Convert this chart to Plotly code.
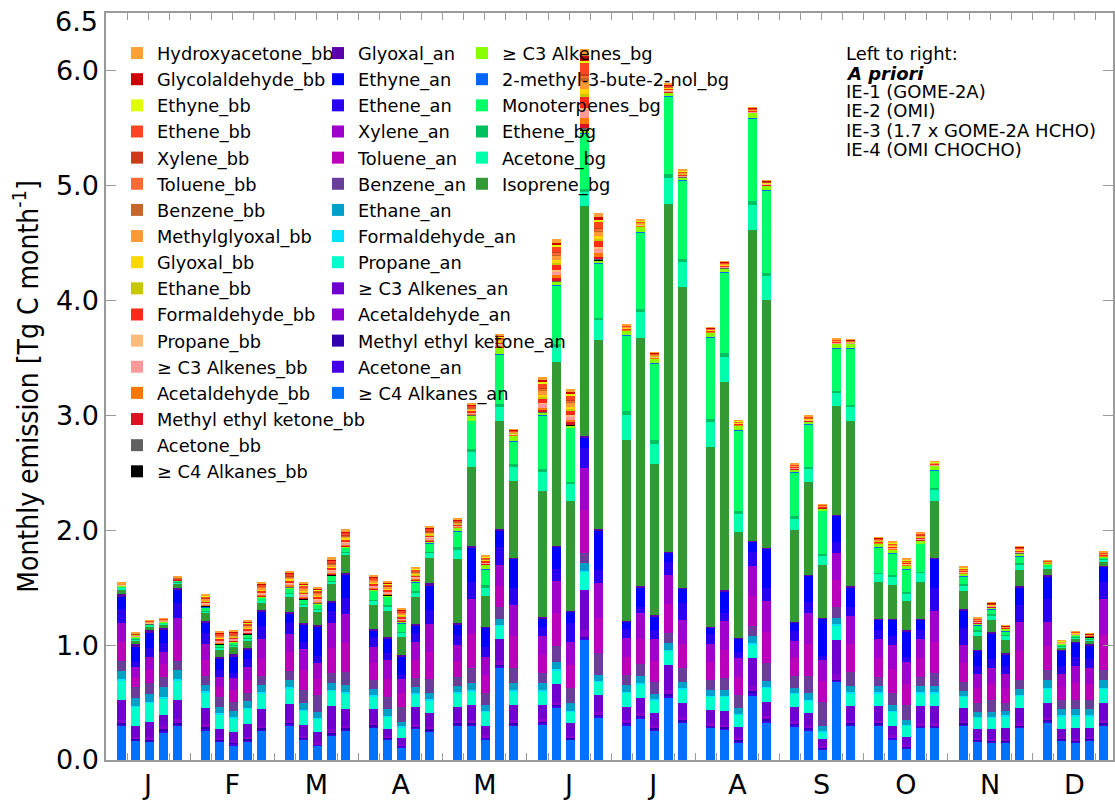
import plotly.graph_objects as go

months = ["J", "F", "M", "A", "M", "J", "J", "A", "S", "O", "N", "D"]
inversions = ["A priori", "IE-1 (GOME-2A)", "IE-2 (OMI)", "IE-3 (1.7 x GOME-2A HCHO)", "IE-4 (OMI CHOCHO)"]

# ---- anthropogenic (an), 5 bars per month: A priori, IE-1, IE-2, IE-3, IE-4 ----
alk4_an = [0.298, 0.168, 0.159, 0.238, 0.296,  0.261, 0.159, 0.130, 0.162, 0.255,
           0.298, 0.174, 0.122, 0.209, 0.255,  0.281, 0.174, 0.110, 0.272, 0.246,
           0.300, 0.300, 0.180, 0.800, 0.300,  0.310, 0.458, 0.174, 1.049, 0.371,
           0.304, 0.362, 0.255, 0.545, 0.325,  0.280, 0.265, 0.150, 0.560, 0.320,
           0.290, 0.255, 0.090, 0.680, 0.300,  0.300, 0.180, 0.100, 0.280, 0.280,
           0.300, 0.160, 0.150, 0.150, 0.280,  0.330, 0.170, 0.150, 0.170, 0.300]
acetone_an = [0.013, 0.012, 0.009, 0.022, 0.017,  0.014, 0.013, 0.013, 0.011, 0.012,
              0.016, 0.014, 0.010, 0.014, 0.012,  0.014, 0.014, 0.012, 0.011, 0.013,
              0.012, 0.012, 0.012, 0.018, 0.012,  0.014, 0.012, 0.008, 0.014, 0.012,
              0.013, 0.013, 0.012, 0.017, 0.014,  0.011, 0.013, 0.012, 0.025, 0.022,
              0.016, 0.015, 0.012, 0.012, 0.012,  0.012, 0.012, 0.012, 0.012, 0.012,
              0.012, 0.012, 0.012, 0.012, 0.012,  0.012, 0.012, 0.012, 0.012, 0.012]
mek_an = [0.009, 0.008, 0.006, 0.015, 0.012,  0.009, 0.008, 0.008, 0.007, 0.008,
          0.011, 0.009, 0.007, 0.009, 0.008,  0.009, 0.009, 0.008, 0.007, 0.008,
          0.008, 0.008, 0.008, 0.012, 0.008,  0.009, 0.008, 0.006, 0.009, 0.008,
          0.008, 0.008, 0.008, 0.012, 0.009,  0.007, 0.009, 0.008, 0.016, 0.014,
          0.011, 0.010, 0.008, 0.008, 0.008,  0.008, 0.008, 0.008, 0.008, 0.008,
          0.008, 0.008, 0.008, 0.008, 0.008,  0.008, 0.008, 0.008, 0.008, 0.008]
acetaldehyde_an = [0.030, 0.016, 0.024, 0.017, 0.030,  0.025, 0.013, 0.014, 0.020, 0.025,
                   0.024, 0.016, 0.015, 0.035, 0.025,  0.020, 0.011, 0.009, 0.025, 0.021,
                   0.021, 0.024, 0.015, 0.033, 0.024,  0.022, 0.027, 0.020, 0.061, 0.026,
                   0.021, 0.024, 0.020, 0.038, 0.022,  0.021, 0.021, 0.018, 0.042, 0.023,
                   0.022, 0.020, 0.011, 0.051, 0.022,  0.022, 0.015, 0.012, 0.025, 0.025,
                   0.020, 0.014, 0.015, 0.016, 0.022,  0.022, 0.012, 0.016, 0.014, 0.027]
c3alkenes_an = [0.172, 0.092, 0.135, 0.099, 0.167,  0.140, 0.074, 0.076, 0.113, 0.140,
                0.138, 0.088, 0.086, 0.202, 0.140,  0.116, 0.064, 0.049, 0.143, 0.118,
                0.119, 0.136, 0.085, 0.187, 0.136,  0.123, 0.156, 0.111, 0.345, 0.148,
                0.118, 0.135, 0.111, 0.214, 0.123,  0.119, 0.122, 0.099, 0.241, 0.128,
                0.122, 0.112, 0.064, 0.289, 0.128,  0.128, 0.085, 0.068, 0.145, 0.145,
                0.110, 0.076, 0.085, 0.094, 0.128,  0.128, 0.068, 0.094, 0.076, 0.153]
propane_an = [0.174, 0.168, 0.165, 0.145, 0.174,  0.139, 0.133, 0.121, 0.133, 0.140,
              0.136, 0.128, 0.119, 0.134, 0.140,  0.116, 0.105, 0.096, 0.116, 0.116,
              0.120, 0.120, 0.120, 0.120, 0.120,  0.122, 0.122, 0.101, 0.160, 0.116,
              0.121, 0.116, 0.116, 0.125, 0.121,  0.114, 0.122, 0.106, 0.122, 0.121,
              0.114, 0.102, 0.057, 0.130, 0.110,  0.110, 0.120, 0.100, 0.110, 0.110,
              0.100, 0.100, 0.100, 0.100, 0.110,  0.120, 0.110, 0.100, 0.100, 0.120]
formaldehyde_an = [0.010, 0.010, 0.010, 0.012, 0.011,  0.010, 0.010, 0.010, 0.010, 0.010,
                   0.011, 0.010, 0.010, 0.010, 0.011,  0.009, 0.010, 0.008, 0.009, 0.009,
                   0.009, 0.010, 0.009, 0.009, 0.010,  0.010, 0.010, 0.010, 0.010, 0.009,
                   0.010, 0.010, 0.009, 0.010, 0.010,  0.009, 0.009, 0.009, 0.011, 0.009,
                   0.009, 0.010, 0.008, 0.010, 0.009,  0.009, 0.009, 0.008, 0.009, 0.009,
                   0.008, 0.008, 0.008, 0.008, 0.009,  0.010, 0.009, 0.009, 0.009, 0.010]
ethane_an = [0.068, 0.062, 0.066, 0.090, 0.076,  0.054, 0.054, 0.057, 0.054, 0.059,
             0.062, 0.060, 0.051, 0.059, 0.061,  0.049, 0.054, 0.041, 0.049, 0.049,
             0.051, 0.060, 0.051, 0.051, 0.060,  0.057, 0.062, 0.063, 0.062, 0.049,
             0.057, 0.060, 0.043, 0.059, 0.057,  0.051, 0.051, 0.048, 0.064, 0.051,
             0.044, 0.059, 0.048, 0.060, 0.051,  0.051, 0.051, 0.042, 0.051, 0.051,
             0.042, 0.042, 0.042, 0.042, 0.051,  0.070, 0.051, 0.051, 0.051, 0.070]
benzene_an = [0.087, 0.102, 0.093, 0.087, 0.081,  0.078, 0.081, 0.078, 0.075, 0.081,
              0.081, 0.110, 0.145, 0.087, 0.116,  0.082, 0.104, 0.125, 0.078, 0.121,
              0.080, 0.130, 0.100, 0.100, 0.130,  0.087, 0.136, 0.130, 0.093, 0.189,
              0.087, 0.104, 0.107, 0.087, 0.116,  0.084, 0.103, 0.113, 0.087, 0.159,
              0.105, 0.150, 0.209, 0.090, 0.130,  0.080, 0.100, 0.130, 0.080, 0.120,
              0.080, 0.080, 0.100, 0.070, 0.080,  0.080, 0.080, 0.080, 0.080, 0.080]
toluene_an = [0.167, 0.087, 0.113, 0.109, 0.184,  0.140, 0.090, 0.102, 0.114, 0.160,
              0.160, 0.177, 0.141, 0.215, 0.251,  0.145, 0.163, 0.122, 0.160, 0.241,
              0.140, 0.300, 0.160, 0.185, 0.275,  0.162, 0.284, 0.203, 0.371, 0.304,
              0.160, 0.222, 0.184, 0.251, 0.210,  0.155, 0.246, 0.161, 0.259, 0.269,
              0.152, 0.275, 0.180, 0.235, 0.240,  0.165, 0.210, 0.185, 0.165, 0.270,
              0.160, 0.125, 0.140, 0.125, 0.250,  0.210, 0.115, 0.150, 0.140, 0.310]
xylene_an = [0.166, 0.087, 0.113, 0.108, 0.184,  0.139, 0.090, 0.101, 0.113, 0.159,
             0.159, 0.176, 0.140, 0.214, 0.251,  0.145, 0.162, 0.121, 0.159, 0.241,
             0.140, 0.300, 0.160, 0.185, 0.275,  0.162, 0.284, 0.203, 0.371, 0.304,
             0.159, 0.221, 0.184, 0.251, 0.210,  0.155, 0.245, 0.160, 0.259, 0.268,
             0.151, 0.274, 0.179, 0.235, 0.240,  0.165, 0.210, 0.185, 0.165, 0.270,
             0.160, 0.125, 0.140, 0.125, 0.250,  0.210, 0.115, 0.150, 0.140, 0.310]
ethene_an = [0.116, 0.052, 0.078, 0.072, 0.130,  0.098, 0.058, 0.049, 0.063, 0.116,
             0.092, 0.067, 0.058, 0.111, 0.136,  0.081, 0.058, 0.038, 0.078, 0.121,
             0.090, 0.150, 0.080, 0.150, 0.150,  0.081, 0.099, 0.159, 0.174, 0.116,
             0.078, 0.058, 0.081, 0.116, 0.145,  0.087, 0.076, 0.058, 0.125, 0.113,
             0.083, 0.094, 0.038, 0.098, 0.080,  0.080, 0.080, 0.050, 0.080, 0.200,
             0.150, 0.070, 0.080, 0.070, 0.150,  0.200, 0.070, 0.080, 0.080, 0.150]
ethyne_an = [0.110, 0.122, 0.136, 0.116, 0.116,  0.087, 0.092, 0.140, 0.087, 0.125,
             0.087, 0.154, 0.255, 0.075, 0.203,  0.058, 0.130, 0.165, 0.067, 0.218,
             0.090, 0.300, 0.170, 0.150, 0.250,  0.064, 0.197, 0.102, 0.087, 0.348,
             0.067, 0.168, 0.122, 0.078, 0.131,  0.064, 0.188, 0.113, 0.087, 0.340,
             0.076, 0.227, 0.328, 0.226, 0.170,  0.090, 0.140, 0.220, 0.090, 0.250,
             0.150, 0.130, 0.220, 0.100, 0.150,  0.200, 0.130, 0.120, 0.120, 0.130]
glyoxal_an = [0.023, 0.023, 0.023, 0.020, 0.022,  0.018, 0.018, 0.023, 0.009, 0.014,
              0.015, 0.011, 0.015, 0.012, 0.020,  0.011, 0.014, 0.009, 0.009, 0.014,
              0.010, 0.010, 0.010, 0.010, 0.010,  0.018, 0.010, 0.008, 0.009, 0.010,
              0.007, 0.009, 0.008, 0.007, 0.007,  0.003, 0.005, 0.005, 0.007, 0.008,
              0.005, 0.007, 0.008, 0.006, 0.010,  0.010, 0.010, 0.010, 0.010, 0.010,
              0.010, 0.010, 0.010, 0.010, 0.010,  0.010, 0.010, 0.010, 0.010, 0.010]

# ---- biogenic (bg) ----
isoprene_bg = [0.044, 0.035, 0.030, 0.028, 0.040,  0.063, 0.069, 0.064, 0.072, 0.064,
               0.130, 0.134, 0.116, 0.144, 0.154,  0.212, 0.227, 0.159, 0.237, 0.226,
               0.560, 0.690, 0.270, 0.940, 0.670,  1.101, 1.598, 0.957, 2.005, 1.642,
               1.573, 2.160, 1.314, 3.025, 2.616,  1.566, 1.818, 0.921, 2.704, 2.159,
               0.800, 0.806, 0.457, 0.948, 1.440,  0.320, 0.290, 0.250, 0.320, 0.490,
               0.160, 0.120, 0.110, 0.110, 0.140,  0.050, 0.020, 0.030, 0.030, 0.040]
acetone_bg = [0.010, 0.008, 0.006, 0.008, 0.008,  0.020, 0.014, 0.013, 0.016, 0.016,
              0.025, 0.022, 0.022, 0.024, 0.022,  0.040, 0.040, 0.039, 0.041, 0.040,
              0.080, 0.130, 0.070, 0.120, 0.120,  0.165, 0.131, 0.145, 0.120, 0.174,
              0.217, 0.230, 0.180, 0.225, 0.214,  0.214, 0.217, 0.159, 0.221, 0.206,
              0.100, 0.114, 0.083, 0.112, 0.120,  0.070, 0.080, 0.070, 0.080, 0.100,
              0.050, 0.040, 0.040, 0.040, 0.050,  0.020, 0.010, 0.010, 0.010, 0.015]
ethene_bg = [0.003, 0.002, 0.002, 0.002, 0.002,  0.003, 0.003, 0.002, 0.003, 0.003,
             0.004, 0.004, 0.004, 0.004, 0.004,  0.007, 0.007, 0.007, 0.007, 0.007,
             0.020, 0.030, 0.020, 0.030, 0.030,  0.021, 0.026, 0.020, 0.030, 0.024,
             0.038, 0.028, 0.029, 0.036, 0.032,  0.025, 0.029, 0.023, 0.032, 0.032,
             0.024, 0.018, 0.012, 0.020, 0.020,  0.010, 0.010, 0.010, 0.010, 0.020,
             0.010, 0.010, 0.010, 0.010, 0.010,  0.005, 0.005, 0.005, 0.005, 0.005]
monoterpenes_bg = [0.012, 0.014, 0.012, 0.011, 0.011,  0.032, 0.024, 0.023, 0.027, 0.026,
                   0.044, 0.039, 0.039, 0.044, 0.040,  0.077, 0.077, 0.074, 0.079, 0.078,
                   0.140, 0.240, 0.140, 0.430, 0.190,  0.472, 0.510, 0.473, 0.480, 0.470,
                   0.658, 0.666, 0.667, 0.674, 0.678,  0.710, 0.704, 0.707, 0.721, 0.711,
                   0.376, 0.372, 0.378, 0.370, 0.490,  0.220, 0.190, 0.200, 0.240, 0.150,
                   0.070, 0.040, 0.040, 0.030, 0.060,  0.015, 0.010, 0.010, 0.010, 0.015]
mbo_bg = [0.001, 0.001, 0.001, 0.001, 0.001,  0.002, 0.001, 0.001, 0.001, 0.001,
          0.002, 0.002, 0.002, 0.002, 0.002,  0.002, 0.002, 0.002, 0.002, 0.002,
          0.003, 0.004, 0.003, 0.005, 0.004,  0.003, 0.003, 0.003, 0.003, 0.003,
          0.004, 0.004, 0.004, 0.004, 0.004,  0.004, 0.004, 0.004, 0.004, 0.004,
          0.003, 0.003, 0.003, 0.003, 0.003,  0.003, 0.003, 0.003, 0.003, 0.003,
          0.002, 0.002, 0.002, 0.002, 0.002,  0.001, 0.001, 0.001, 0.001, 0.001]
c3alkenes_bg = [0.003, 0.003, 0.002, 0.003, 0.003,  0.007, 0.005, 0.004, 0.006, 0.006,
                0.006, 0.005, 0.005, 0.005, 0.004,  0.010, 0.010, 0.009, 0.010, 0.010,
                0.027, 0.046, 0.037, 0.055, 0.046,  0.017, 0.027, 0.017, 0.025, 0.025,
                0.033, 0.040, 0.036, 0.036, 0.028,  0.041, 0.033, 0.036, 0.043, 0.043,
                0.027, 0.023, 0.017, 0.037, 0.037,  0.027, 0.027, 0.027, 0.027, 0.037,
                0.018, 0.018, 0.018, 0.018, 0.028,  0.009, 0.004, 0.004, 0.004, 0.004]

# ---- biomass burning (bb) ----
alk4_bb = [0.0003, 0.0004, 0.0003, 0.0003, 0.0003,  0.0010, 0.0011, 0.0010, 0.0012, 0.0013,
           0.0015, 0.0015, 0.0014, 0.0015, 0.0015,  0.0013, 0.0012, 0.0012, 0.0012, 0.0014,
           0.0008, 0.0010, 0.0008, 0.0011, 0.0006,  0.0031, 0.0038, 0.0032, 0.0071, 0.0041,
           0.0006, 0.0006, 0.0006, 0.0007, 0.0006,  0.0005, 0.0006, 0.0005, 0.0005, 0.0004,
           0.0005, 0.0005, 0.0004, 0.0004, 0.0004,  0.0006, 0.0007, 0.0006, 0.0007, 0.0004,
           0.0006, 0.0005, 0.0004, 0.0003, 0.0006,  0.0003, 0.0003, 0.0003, 0.0003, 0.0004]
acetone_bb = [0.0005, 0.0007, 0.0007, 0.0006, 0.0006,  0.0021, 0.0021, 0.0019, 0.0023, 0.0026,
              0.0029, 0.0029, 0.0028, 0.0031, 0.0030,  0.0025, 0.0023, 0.0023, 0.0024, 0.0027,
              0.0016, 0.0020, 0.0016, 0.0022, 0.0012,  0.0063, 0.0075, 0.0064, 0.0142, 0.0082,
              0.0011, 0.0012, 0.0012, 0.0015, 0.0013,  0.0009, 0.0012, 0.0009, 0.0010, 0.0009,
              0.0010, 0.0010, 0.0007, 0.0009, 0.0008,  0.0012, 0.0014, 0.0012, 0.0014, 0.0008,
              0.0012, 0.0010, 0.0008, 0.0006, 0.0012,  0.0006, 0.0006, 0.0006, 0.0006, 0.0008]
mek_bb = [0.0013, 0.0018, 0.0017, 0.0015, 0.0015,  0.0052, 0.0054, 0.0048, 0.0058, 0.0066,
          0.0073, 0.0073, 0.0070, 0.0077, 0.0076,  0.0063, 0.0058, 0.0058, 0.0061, 0.0068,
          0.0040, 0.0050, 0.0040, 0.0055, 0.0030,  0.0157, 0.0188, 0.0160, 0.0356, 0.0206,
          0.0029, 0.0031, 0.0030, 0.0037, 0.0032,  0.0023, 0.0030, 0.0024, 0.0024, 0.0022,
          0.0024, 0.0024, 0.0019, 0.0022, 0.0020,  0.0030, 0.0035, 0.0030, 0.0035, 0.0020,
          0.0030, 0.0025, 0.0020, 0.0015, 0.0030,  0.0015, 0.0015, 0.0015, 0.0015, 0.0020]
acetaldehyde_bb = [0.0018, 0.0025, 0.0024, 0.0020, 0.0020,  0.0073, 0.0075, 0.0067, 0.0081, 0.0092,
                   0.0102, 0.0102, 0.0097, 0.0107, 0.0106,  0.0088, 0.0081, 0.0081, 0.0085, 0.0095,
                   0.0056, 0.0070, 0.0056, 0.0077, 0.0042,  0.0219, 0.0263, 0.0223, 0.0498, 0.0288,
                   0.0040, 0.0043, 0.0042, 0.0052, 0.0045,  0.0032, 0.0041, 0.0033, 0.0034, 0.0030,
                   0.0034, 0.0034, 0.0026, 0.0031, 0.0028,  0.0042, 0.0049, 0.0042, 0.0049, 0.0028,
                   0.0042, 0.0035, 0.0028, 0.0021, 0.0042,  0.0021, 0.0021, 0.0021, 0.0021, 0.0028]
c3alkenes_bb = [0.0026, 0.0035, 0.0034, 0.0029, 0.0029,  0.0104, 0.0107, 0.0096, 0.0116, 0.0131,
                0.0145, 0.0145, 0.0139, 0.0153, 0.0151,  0.0125, 0.0116, 0.0116, 0.0122, 0.0136,
                0.0080, 0.0100, 0.0080, 0.0110, 0.0060,  0.0313, 0.0376, 0.0319, 0.0712, 0.0412,
                0.0057, 0.0062, 0.0060, 0.0074, 0.0064,  0.0045, 0.0059, 0.0047, 0.0048, 0.0043,
                0.0048, 0.0048, 0.0037, 0.0044, 0.0040,  0.0060, 0.0070, 0.0060, 0.0070, 0.0040,
                0.0060, 0.0050, 0.0040, 0.0030, 0.0060,  0.0030, 0.0030, 0.0030, 0.0030, 0.0040]
propane_bb = [0.0008, 0.0011, 0.0010, 0.0009, 0.0009,  0.0031, 0.0032, 0.0029, 0.0035, 0.0039,
              0.0044, 0.0044, 0.0042, 0.0046, 0.0045,  0.0038, 0.0035, 0.0035, 0.0037, 0.0041,
              0.0024, 0.0030, 0.0024, 0.0033, 0.0018,  0.0094, 0.0113, 0.0096, 0.0214, 0.0124,
              0.0017, 0.0019, 0.0018, 0.0022, 0.0019,  0.0014, 0.0018, 0.0014, 0.0014, 0.0013,
              0.0014, 0.0014, 0.0011, 0.0013, 0.0012,  0.0018, 0.0021, 0.0018, 0.0021, 0.0012,
              0.0018, 0.0015, 0.0012, 0.0009, 0.0018,  0.0009, 0.0009, 0.0009, 0.0009, 0.0012]
formaldehyde_bb = [0.0034, 0.0046, 0.0044, 0.0038, 0.0038,  0.0135, 0.0139, 0.0125, 0.0151, 0.0170,
                   0.0189, 0.0189, 0.0181, 0.0199, 0.0196,  0.0163, 0.0151, 0.0151, 0.0159, 0.0177,
                   0.0104, 0.0130, 0.0104, 0.0143, 0.0078,  0.0407, 0.0489, 0.0415, 0.0926, 0.0536,
                   0.0074, 0.0081, 0.0078, 0.0096, 0.0083,  0.0059, 0.0077, 0.0061, 0.0062, 0.0056,
                   0.0062, 0.0062, 0.0048, 0.0057, 0.0052,  0.0078, 0.0091, 0.0078, 0.0091, 0.0052,
                   0.0078, 0.0065, 0.0052, 0.0039, 0.0078,  0.0039, 0.0039, 0.0039, 0.0039, 0.0052]
ethane_bb = [0.0008, 0.0011, 0.0010, 0.0009, 0.0009,  0.0031, 0.0032, 0.0029, 0.0035, 0.0039,
             0.0044, 0.0044, 0.0042, 0.0046, 0.0045,  0.0038, 0.0035, 0.0035, 0.0037, 0.0041,
             0.0024, 0.0030, 0.0024, 0.0033, 0.0018,  0.0094, 0.0113, 0.0096, 0.0214, 0.0124,
             0.0017, 0.0019, 0.0018, 0.0022, 0.0019,  0.0014, 0.0018, 0.0014, 0.0014, 0.0013,
             0.0014, 0.0014, 0.0011, 0.0013, 0.0012,  0.0018, 0.0021, 0.0018, 0.0021, 0.0012,
             0.0018, 0.0015, 0.0012, 0.0009, 0.0018,  0.0009, 0.0009, 0.0009, 0.0009, 0.0012]
glyoxal_bb = [0.0018, 0.0025, 0.0024, 0.0020, 0.0020,  0.0073, 0.0075, 0.0067, 0.0081, 0.0092,
              0.0102, 0.0102, 0.0097, 0.0107, 0.0106,  0.0088, 0.0081, 0.0081, 0.0085, 0.0095,
              0.0056, 0.0070, 0.0056, 0.0077, 0.0042,  0.0219, 0.0263, 0.0223, 0.0498, 0.0288,
              0.0040, 0.0043, 0.0042, 0.0052, 0.0045,  0.0032, 0.0041, 0.0033, 0.0034, 0.0030,
              0.0034, 0.0034, 0.0026, 0.0031, 0.0028,  0.0042, 0.0049, 0.0042, 0.0049, 0.0028,
              0.0042, 0.0035, 0.0028, 0.0021, 0.0042,  0.0021, 0.0021, 0.0021, 0.0021, 0.0028]
methylglyoxal_bb = [0.0026, 0.0035, 0.0034, 0.0029, 0.0029,  0.0104, 0.0107, 0.0096, 0.0116, 0.0131,
                    0.0145, 0.0145, 0.0139, 0.0153, 0.0151,  0.0125, 0.0116, 0.0116, 0.0122, 0.0136,
                    0.0080, 0.0100, 0.0080, 0.0110, 0.0060,  0.0313, 0.0376, 0.0319, 0.0712, 0.0412,
                    0.0057, 0.0062, 0.0060, 0.0074, 0.0064,  0.0045, 0.0059, 0.0047, 0.0048, 0.0043,
                    0.0048, 0.0048, 0.0037, 0.0044, 0.0040,  0.0060, 0.0070, 0.0060, 0.0070, 0.0040,
                    0.0060, 0.0050, 0.0040, 0.0030, 0.0060,  0.0030, 0.0030, 0.0030, 0.0030, 0.0040]
benzene_bb = [0.0008, 0.0011, 0.0010, 0.0009, 0.0009,  0.0031, 0.0032, 0.0029, 0.0035, 0.0039,
              0.0044, 0.0044, 0.0042, 0.0046, 0.0045,  0.0038, 0.0035, 0.0035, 0.0037, 0.0041,
              0.0024, 0.0030, 0.0024, 0.0033, 0.0018,  0.0094, 0.0113, 0.0096, 0.0214, 0.0124,
              0.0017, 0.0019, 0.0018, 0.0022, 0.0019,  0.0014, 0.0018, 0.0014, 0.0014, 0.0013,
              0.0014, 0.0014, 0.0011, 0.0013, 0.0012,  0.0018, 0.0021, 0.0018, 0.0021, 0.0012,
              0.0018, 0.0015, 0.0012, 0.0009, 0.0018,  0.0009, 0.0009, 0.0009, 0.0009, 0.0012]
toluene_bb = [0.0008, 0.0011, 0.0010, 0.0009, 0.0009,  0.0031, 0.0032, 0.0029, 0.0035, 0.0039,
              0.0044, 0.0044, 0.0042, 0.0046, 0.0045,  0.0038, 0.0035, 0.0035, 0.0037, 0.0041,
              0.0024, 0.0030, 0.0024, 0.0033, 0.0018,  0.0094, 0.0113, 0.0096, 0.0214, 0.0124,
              0.0017, 0.0019, 0.0018, 0.0022, 0.0019,  0.0014, 0.0018, 0.0014, 0.0014, 0.0013,
              0.0014, 0.0014, 0.0011, 0.0013, 0.0012,  0.0018, 0.0021, 0.0018, 0.0021, 0.0012,
              0.0018, 0.0015, 0.0012, 0.0009, 0.0018,  0.0009, 0.0009, 0.0009, 0.0009, 0.0012]
xylene_bb = [0.0005, 0.0007, 0.0007, 0.0006, 0.0006,  0.0021, 0.0021, 0.0019, 0.0023, 0.0026,
             0.0029, 0.0029, 0.0028, 0.0031, 0.0030,  0.0025, 0.0023, 0.0023, 0.0024, 0.0027,
             0.0016, 0.0020, 0.0016, 0.0022, 0.0012,  0.0063, 0.0075, 0.0064, 0.0142, 0.0082,
             0.0011, 0.0012, 0.0012, 0.0015, 0.0013,  0.0009, 0.0012, 0.0009, 0.0010, 0.0009,
             0.0010, 0.0010, 0.0007, 0.0009, 0.0008,  0.0012, 0.0014, 0.0012, 0.0014, 0.0008,
             0.0012, 0.0010, 0.0008, 0.0006, 0.0012,  0.0006, 0.0006, 0.0006, 0.0006, 0.0008]
ethene_bb = [0.0034, 0.0046, 0.0044, 0.0038, 0.0038,  0.0135, 0.0139, 0.0125, 0.0151, 0.0170,
             0.0189, 0.0189, 0.0181, 0.0199, 0.0196,  0.0163, 0.0151, 0.0151, 0.0159, 0.0177,
             0.0104, 0.0130, 0.0104, 0.0143, 0.0078,  0.0407, 0.0489, 0.0415, 0.0926, 0.0536,
             0.0074, 0.0081, 0.0078, 0.0096, 0.0083,  0.0059, 0.0077, 0.0061, 0.0062, 0.0056,
             0.0062, 0.0062, 0.0048, 0.0057, 0.0052,  0.0078, 0.0091, 0.0078, 0.0091, 0.0052,
             0.0078, 0.0065, 0.0052, 0.0039, 0.0078,  0.0039, 0.0039, 0.0039, 0.0039, 0.0052]
ethyne_bb = [0.0008, 0.0011, 0.0010, 0.0009, 0.0009,  0.0031, 0.0032, 0.0029, 0.0035, 0.0039,
             0.0044, 0.0044, 0.0042, 0.0046, 0.0045,  0.0038, 0.0035, 0.0035, 0.0037, 0.0041,
             0.0024, 0.0030, 0.0024, 0.0033, 0.0018,  0.0094, 0.0113, 0.0096, 0.0214, 0.0124,
             0.0017, 0.0019, 0.0018, 0.0022, 0.0019,  0.0014, 0.0018, 0.0014, 0.0014, 0.0013,
             0.0014, 0.0014, 0.0011, 0.0013, 0.0012,  0.0018, 0.0021, 0.0018, 0.0021, 0.0012,
             0.0018, 0.0015, 0.0012, 0.0009, 0.0018,  0.0009, 0.0009, 0.0009, 0.0009, 0.0012]
glycolaldehyde_bb = [0.0016, 0.0021, 0.0020, 0.0017, 0.0017,  0.0062, 0.0064, 0.0058, 0.0070, 0.0079,
                     0.0087, 0.0087, 0.0083, 0.0092, 0.0091,  0.0075, 0.0070, 0.0070, 0.0073, 0.0082,
                     0.0048, 0.0060, 0.0048, 0.0066, 0.0036,  0.0188, 0.0226, 0.0191, 0.0427, 0.0247,
                     0.0034, 0.0037, 0.0036, 0.0044, 0.0038,  0.0027, 0.0035, 0.0028, 0.0029, 0.0026,
                     0.0029, 0.0029, 0.0022, 0.0026, 0.0024,  0.0036, 0.0042, 0.0036, 0.0042, 0.0024,
                     0.0036, 0.0030, 0.0024, 0.0018, 0.0036,  0.0018, 0.0018, 0.0018, 0.0018, 0.0024]
hydroxyacetone_bb = [0.0023, 0.0032, 0.0031, 0.0026, 0.0026,  0.0094, 0.0096, 0.0086, 0.0104, 0.0118,
                     0.0131, 0.0131, 0.0125, 0.0138, 0.0136,  0.0113, 0.0104, 0.0104, 0.0110, 0.0122,
                     0.0072, 0.0090, 0.0072, 0.0099, 0.0054,  0.0282, 0.0338, 0.0287, 0.0641, 0.0371,
                     0.0051, 0.0056, 0.0054, 0.0067, 0.0058,  0.0041, 0.0053, 0.0042, 0.0043, 0.0039,
                     0.0043, 0.0043, 0.0033, 0.0040, 0.0036,  0.0054, 0.0063, 0.0054, 0.0063, 0.0036,
                     0.0054, 0.0045, 0.0036, 0.0027, 0.0054,  0.0027, 0.0027, 0.0027, 0.0027, 0.0036]

# stacking order, bottom to top: (label, values, colour, legend)
series = [
    ("\u2265 C4 Alkanes_an", alk4_an, "#0070ff", "legend2"),
    ("Acetone_an", acetone_an, "#4400e6", "legend2"),
    ("Methyl ethyl ketone_an", mek_an, "#3000b0", "legend2"),
    ("Acetaldehyde_an", acetaldehyde_an, "#8a00d0", "legend2"),
    ("\u2265 C3 Alkenes_an", c3alkenes_an, "#7000d0", "legend2"),
    ("Propane_an", propane_an, "#00ffcc", "legend2"),
    ("Formaldehyde_an", formaldehyde_an, "#00e0ff", "legend2"),
    ("Ethane_an", ethane_an, "#00a0c8", "legend2"),
    ("Benzene_an", benzene_an, "#6a3d9a", "legend2"),
    ("Toluene_an", toluene_an, "#bb00bb", "legend2"),
    ("Xylene_an", xylene_an, "#a000cc", "legend2"),
    ("Ethene_an", ethene_an, "#2a00f0", "legend2"),
    ("Ethyne_an", ethyne_an, "#0000ff", "legend2"),
    ("Glyoxal_an", glyoxal_an, "#5a00aa", "legend2"),
    ("Isoprene_bg", isoprene_bg, "#339933", "legend3"),
    ("Acetone_bg", acetone_bg, "#00ffaa", "legend3"),
    ("Ethene_bg", ethene_bg, "#00c060", "legend3"),
    ("Monoterpenes_bg", monoterpenes_bg, "#00ff66", "legend3"),
    ("2-methyl-3-bute-2-nol_bg", mbo_bg, "#0066ff", "legend3"),
    ("\u2265 C3 Alkenes_bg", c3alkenes_bg, "#88ff00", "legend3"),
    ("\u2265 C4 Alkanes_bb", alk4_bb, "#000000", "legend"),
    ("Acetone_bb", acetone_bb, "#606060", "legend"),
    ("Methyl ethyl ketone_bb", mek_bb, "#dd1122", "legend"),
    ("Acetaldehyde_bb", acetaldehyde_bb, "#ff7700", "legend"),
    ("\u2265 C3 Alkenes_bb", c3alkenes_bb, "#ff9999", "legend"),
    ("Propane_bb", propane_bb, "#ffbb77", "legend"),
    ("Formaldehyde_bb", formaldehyde_bb, "#ff2a1a", "legend"),
    ("Ethane_bb", ethane_bb, "#c8c800", "legend"),
    ("Glyoxal_bb", glyoxal_bb, "#ffd700", "legend"),
    ("Methylglyoxal_bb", methylglyoxal_bb, "#ff9933", "legend"),
    ("Benzene_bb", benzene_bb, "#c8662a", "legend"),
    ("Toluene_bb", toluene_bb, "#ff6a33", "legend"),
    ("Xylene_bb", xylene_bb, "#cc3a1a", "legend"),
    ("Ethene_bb", ethene_bb, "#ff4422", "legend"),
    ("Ethyne_bb", ethyne_bb, "#ddff00", "legend"),
    ("Glycolaldehyde_bb", glycolaldehyde_bb, "#cc0000", "legend"),
    ("Hydroxyacetone_bb", hydroxyacetone_bb, "#ffa033", "legend"),
]

# bar positions: month m occupies [m, m+1]; five bars per month
BAR_STEP = 0.1661
x_pos = []
for m in range(len(months)):
    for k in range(len(inversions)):
        x_pos.append(m + 0.5 + (k - 2) * BAR_STEP + 0.012)

fig = go.Figure()
for name, vals, col, leg in series:
    fig.add_trace(go.Bar(
        x=x_pos, y=vals, name=name, width=0.107,
        marker=dict(color=col, line=dict(width=0)),
        legend=leg,
    ))

# plot area in pixels
L, R, T, B = 106, 2, 13, 45
W, H = 1115, 805
pw, ph = W - L - R, H - T - B


def px_x(px):
    return (px - L) / pw


def px_y(py):
    return (H - B - py) / ph


FONT = "DejaVu Sans, Liberation Sans, Arial, sans-serif"
TITLE_FONT = "DejaVu Sans Condensed, Liberation Sans Narrow, Arial Narrow, DejaVu Sans, sans-serif"
axis_grey = "#9a9a9a"

xt_vals, xt_text = [], []
for q in range(0, 49):
    v = q * 0.25
    xt_vals.append(v)
    xt_text.append(months[int(v)] if (q % 4 == 2) else "")

legend_common = dict(
    font=dict(family=FONT, size=17.8, color="black"),
    bgcolor="rgba(0,0,0,0)", borderwidth=0,
    traceorder="reversed", xanchor="left", yanchor="top",
    itemclick=False, itemdoubleclick=False,
)

fig.update_layout(
    width=W, height=H,
    margin=dict(l=L, r=R, t=T, b=B, pad=0, autoexpand=False),
    paper_bgcolor="white", plot_bgcolor="white",
    barmode="stack", bargap=0,
    font=dict(family=FONT, color="black"),
    showlegend=True,
    legend=dict(x=px_x(117), y=px_y(35), **legend_common),
    legend2=dict(x=px_x(318), y=px_y(35), **legend_common),
    legend3=dict(x=px_x(462), y=px_y(35), **legend_common),
    xaxis=dict(
        range=[0, 11.96], tickmode="array", tickvals=xt_vals, ticktext=xt_text,
        ticks="inside", ticklen=7, tickwidth=1.2, tickcolor=axis_grey,
        showline=True, linecolor=axis_grey, linewidth=1.5, mirror="ticks",
        showgrid=False, zeroline=False, layer="below traces",
        tickfont=dict(family=FONT, size=27, color="black"),
        ticklabeloverflow="allow", automargin=False,
    ),
    yaxis=dict(
        range=[0, 6.5], tickmode="array",
        tickvals=[0, 1, 2, 3, 4, 5, 6],
        ticktext=["0.0", "1.0", "2.0", "3.0", "4.0", "5.0", "6.0"],
        ticks="inside", ticklen=10, tickwidth=1.2, tickcolor=axis_grey,
        showline=True, linecolor=axis_grey, linewidth=1.5, mirror="ticks",
        showgrid=False, zeroline=False,
        tickfont=dict(family=FONT, size=27, color="black"),
        ticklabeloverflow="allow", automargin=False,
        title=dict(text="Monthly emission [Tg C month<sup>-1</sup>]",
                   font=dict(family=TITLE_FONT, size=28, color="black"), standoff=9),
    ),
)

# top-of-axis label, nudged down so it stays inside the page as in the original
fig.add_annotation(
    text="6.5", xref="paper", yref="paper", x=px_x(100), y=px_y(21),
    xanchor="right", yanchor="middle", showarrow=False,
    font=dict(family=FONT, size=27, color="black"),
)

# "Left to right" key
key_lines = ["Left to right:", "<b><i>A priori</i></b>"] + inversions[1:]
key_y = [53, 73, 92, 111, 131, 150]
for txt, yy in zip(key_lines, key_y):
    fig.add_annotation(
        text=txt, xref="paper", yref="paper", x=px_x(844), y=px_y(yy),
        xanchor="left", yanchor="middle", showarrow=False,
        font=dict(family=FONT, size=18, color="black"),
    )

# the page is photographed from its top-left corner: drop the default body margin
fig.write_html(
    "out.html",
    config={"displayModeBar": False},
    post_script="document.body.style.margin='0px';document.body.style.overflow='hidden';",
)
